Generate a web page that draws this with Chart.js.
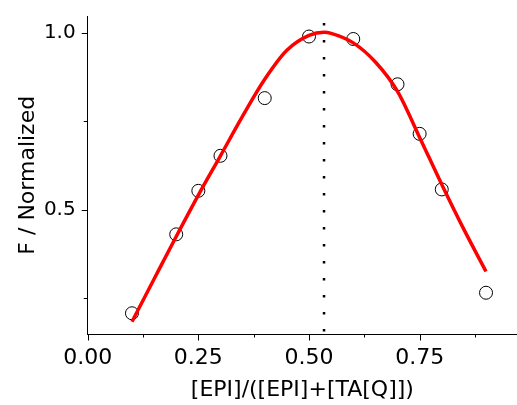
<!DOCTYPE html>
<html>
<head>
<meta charset="utf-8">
<script src="https://cdn.jsdelivr.net/npm/chart.js@4.4.1/dist/chart.umd.min.js"></script>
<style>
  body { margin: 0; background: #fff; }
  canvas { display: block; }
</style>
</head>
<body>
<canvas id="graph" width="517" height="405"></canvas>
<script>
// 測定データ
var xRatio = [0.1, 0.2, 0.25, 0.3, 0.4, 0.5, 0.6, 0.7, 0.75, 0.8, 0.9];
var fNorm  = [0.208, 0.431, 0.554, 0.653, 0.816, 0.99, 0.983, 0.855, 0.715, 0.558, 0.266];

// フィット曲線
var fitX = [0.10, 0.15, 0.20, 0.25, 0.30, 0.35, 0.40, 0.45, 0.50, 0.534, 0.55, 0.60, 0.65, 0.70, 0.75, 0.80, 0.85, 0.90];
var fitY = [0.184, 0.305, 0.425, 0.542, 0.653, 0.765, 0.869, 0.951, 0.993, 1.002, 0.999, 0.972, 0.918, 0.835, 0.705, 0.572, 0.445, 0.326];

// 極大位置
var peakX = 0.534;
var peakLineY = [1.028, 0.15];

// 目盛り
var xTicks = [0, 0.125, 0.25, 0.375, 0.5, 0.625, 0.75, 0.875];
var xLabels = ["0.00", "", "0.25", "", "0.50", "", "0.75", ""];
var yTicks = [0.25, 0.5, 0.75, 1.0];
var yLabels = ["", "0.5", "", "1.0"];

var FONT = "'DejaVu Sans', sans-serif";

function pairs(xs, ys) {
    return xs.map(function(x, i) { return { x: x, y: ys[i] }; });
}

// 目盛り線 (主・副)
var tickMarks = {
    id: 'tickMarks',
    afterDraw: function(chart) {
        var ctx = chart.ctx;
        var xs = chart.scales.x, ys = chart.scales.y;
        var area = chart.chartArea;
        ctx.save();
        ctx.strokeStyle = '#000';
        ctx.lineWidth = 1;
        xTicks.forEach(function(v, i) {
            var px = Math.round(xs.getPixelForValue(v)) + 0.5;
            var len = xLabels[i] ? 6 : 3;
            ctx.beginPath();
            ctx.moveTo(px, area.bottom);
            ctx.lineTo(px, area.bottom + len);
            ctx.stroke();
        });
        yTicks.forEach(function(v, i) {
            var py = Math.round(ys.getPixelForValue(v)) + 0.5;
            var len = yLabels[i] ? 6 : 4;
            ctx.beginPath();
            ctx.moveTo(area.left, py);
            ctx.lineTo(area.left - len, py);
            ctx.stroke();
        });
        ctx.restore();
    }
};

var ctx = document.getElementById('graph').getContext('2d');
var myChart = new Chart(ctx, {
    type: 'scatter',
    data: {
        datasets: [
            {
                label: 'fit',
                type: 'line',
                data: pairs(fitX, fitY),
                borderColor: '#ff0000',
                borderWidth: 3.5,
                pointRadius: 0,
                fill: false,
                cubicInterpolationMode: 'monotone',
                order: 0
            },
            {
                label: 'data',
                data: pairs(xRatio, fNorm),
                pointStyle: 'circle',
                pointRadius: 6.5,
                borderColor: '#000',
                borderWidth: 1,
                backgroundColor: 'rgba(255,255,255,0)',
                order: 1
            },
            {
                label: 'peak',
                type: 'line',
                data: [{ x: peakX, y: peakLineY[0] }, { x: peakX, y: peakLineY[1] }],
                borderColor: '#000',
                borderWidth: 2.5,
                borderDash: [2.5, 14.5],
                borderCapStyle: 'butt',
                pointRadius: 0,
                fill: false,
                order: 2
            }
        ]
    },
    options: {
        responsive: false,
        animation: false,
        layout: { autoPadding: false, padding: { top: 16, left: 0, right: 0, bottom: 0 } },
        plugins: {
            legend: { display: false },
            tooltip: { enabled: false },
            title: { display: false }
        },
        scales: {
            x: {
                type: 'linear',
                min: 0,
                max: 0.97,
                afterBuildTicks: function(scale) {
                    scale.ticks = xTicks.map(function(v) { return { value: v }; });
                },
                afterFit: function(scale) {
                    scale.height = 70.5;
                    scale.paddingLeft = 0;
                    scale.paddingRight = 0;
                },
                grid: { display: true, drawOnChartArea: false, drawTicks: false },
                border: { display: true, color: '#000', width: 1 },
                ticks: {
                    autoSkip: false,
                    maxRotation: 0,
                    padding: 11,
                    color: '#000',
                    font: { family: FONT, size: 22 },
                    callback: function(v, i) { return xLabels[i]; }
                },
                title: {
                    display: true,
                    text: '[EPI]/([EPI]+[TA[Q]])',
                    color: '#000',
                    font: { family: FONT, size: 22 },
                    padding: { top: 0, bottom: 2 }
                }
            },
            y: {
                type: 'linear',
                min: 0.148,
                max: 1.048,
                afterBuildTicks: function(scale) {
                    scale.ticks = yTicks.map(function(v) { return { value: v }; });
                },
                afterFit: function(scale) {
                    scale.width = 87.7;
                    scale.paddingTop = 0;
                    scale.paddingBottom = 0;
                },
                grid: { display: true, drawOnChartArea: false, drawTicks: false },
                border: { display: true, color: '#000', width: 1 },
                ticks: {
                    autoSkip: false,
                    padding: 12,
                    color: '#000',
                    font: { family: FONT, size: 20 },
                    callback: function(v, i) { return yLabels[i]; }
                },
                title: {
                    display: true,
                    text: 'F / Normalized',
                    color: '#000',
                    font: { family: FONT, size: 22 },
                    padding: { top: 15, bottom: 0 }
                }
            }
        }
    },
    plugins: [tickMarks]
});
</script>
</body>
</html>
